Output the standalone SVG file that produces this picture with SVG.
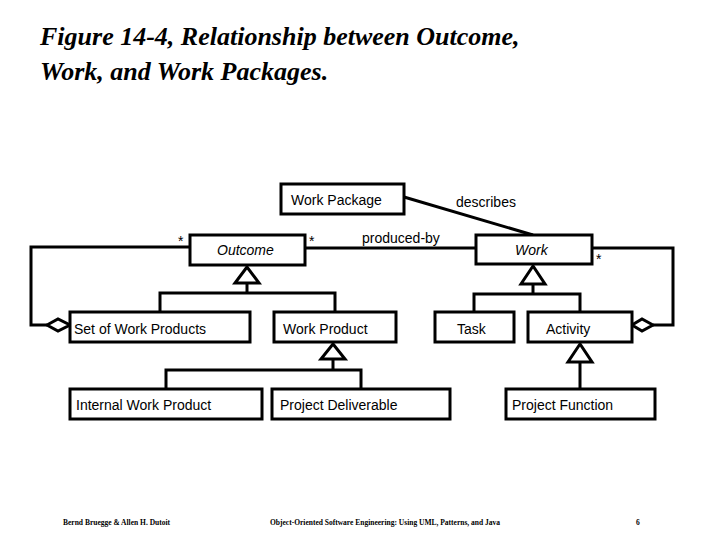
<svg xmlns="http://www.w3.org/2000/svg" width="720" height="540" viewBox="0 0 720 540">
<style>
.b{fill:#fff;stroke:#000;stroke-width:3}
.t{font-family:"Liberation Sans",Arial,sans-serif;font-size:14px;fill:#000}
.i{font-style:italic}
.l{fill:none;stroke:#000;stroke-width:3}
.tri{fill:#fff;stroke:#000;stroke-width:3}
.f{font-family:"Liberation Serif",serif;font-weight:bold;font-size:7.5px}
</style>
<rect width="720" height="540" fill="#fff"/>
<text x="40" y="45" font-family="Liberation Serif,serif" font-style="italic" font-weight="bold" font-size="26">Figure 14-4, Relationship between Outcome,</text>
<text x="40" y="80" font-family="Liberation Serif,serif" font-style="italic" font-weight="bold" font-size="26">Work, and Work Packages.</text>
<g id="connectors">
<polyline class="l" points="190,247 31,247 31,325 47,325"/>
<polyline class="l" points="592,248 673,248 673,325 653,325"/>
<polygon class="tri" points="47,325 58,319 70,325 58,331"/>
<polygon class="tri" points="653,325 642,319 632,325 642,331"/>
<line class="l" x1="305" y1="248" x2="475" y2="248"/>
<line class="l" x1="404" y1="197" x2="533" y2="235"/>
<polyline class="l" points="160,312 160,293 335,293 335,312"/>
<line class="l" x1="247" y1="283" x2="247" y2="293"/>
<polygon class="tri" points="247,267 235,283 259,283"/>
<polyline class="l" points="166,389 166,370 361,370 361,389"/>
<line class="l" x1="333" y1="358" x2="333" y2="370"/>
<polygon class="tri" points="333,344 321,359 345,359"/>
<polyline class="l" points="474,312 474,294 580,294 580,312"/>
<line class="l" x1="533" y1="284" x2="533" y2="294"/>
<polygon class="tri" points="533,266 521,284 545,284"/>
<line class="l" x1="580" y1="362" x2="580" y2="389"/>
<polygon class="tri" points="580,344 568,362 592,362"/>
<text class="t" x="178" y="246">*</text>
<text class="t" x="309" y="246">*</text>
<text class="t" x="596" y="264">*</text>
<text class="t" x="362" y="243">produced-by</text>
<text class="t" x="456" y="207">describes</text>
</g>
<g id="workpackage"><rect class="b" x="281" y="184" width="123" height="30"/><text class="t" x="291" y="205">Work Package</text></g>
<g id="outcome"><rect class="b" x="190" y="235" width="115" height="30"/><text class="t i" x="217" y="255">Outcome</text></g>
<g id="work"><rect class="b" x="476" y="235" width="116" height="29"/><text class="t i" x="515" y="255">Work</text></g>
<g id="setofworkproducts"><rect class="b" x="70" y="312" width="180" height="30"/><text class="t" x="74" y="334">Set of Work Products</text></g>
<g id="workproduct"><rect class="b" x="274" y="312" width="122" height="30"/><text class="t" x="283" y="334">Work Product</text></g>
<g id="task"><rect class="b" x="435" y="312" width="79" height="30"/><text class="t" x="457" y="334">Task</text></g>
<g id="activity"><rect class="b" x="528" y="312" width="104" height="30"/><text class="t" x="546" y="334">Activity</text></g>
<g id="internalworkproduct"><rect class="b" x="70" y="389" width="192" height="30"/><text class="t" x="76" y="410">Internal Work Product</text></g>
<g id="projectdeliverable"><rect class="b" x="272" y="389" width="178" height="30"/><text class="t" x="280" y="410">Project Deliverable</text></g>
<g id="projectfunction"><rect class="b" x="506" y="389" width="149" height="30"/><text class="t" x="512" y="410">Project Function</text></g>
<text class="f" x="63" y="525">Bernd Bruegge &amp; Allen H. Dutoit</text>
<text class="f" x="270" y="525">Object-Oriented Software Engineering: Using UML, Patterns, and Java</text>
<text class="f" x="636" y="525">6</text>
</svg>
